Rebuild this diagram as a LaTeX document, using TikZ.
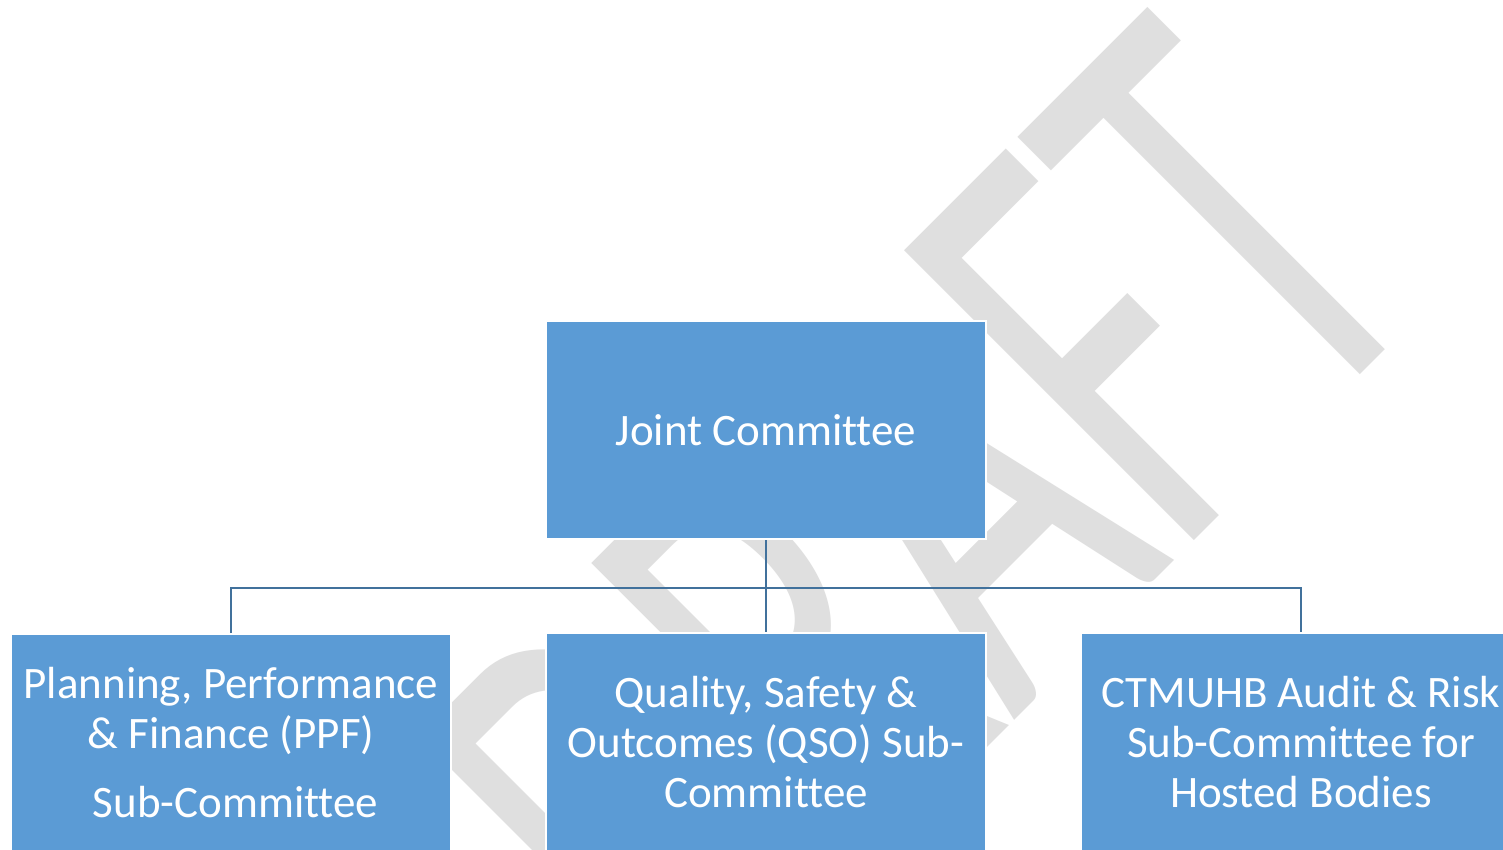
\documentclass[tikz,border=0pt]{standalone}
\usepackage{fontspec}
\setmainfont{Carlito}[Ligatures={NoCommon}]
\definecolor{boxblue}{HTML}{5B9BD5}
\definecolor{linkblue}{HTML}{41719C}
\definecolor{wmgray}{HTML}{DFDFDF}
\tikzset{
  orgbox/.style={draw=white, line width=2pt, fill=boxblue, text=white,
    minimum width=440pt, minimum height=218pt, inner sep=0pt, align=center,
    font=\fontsize{45}{50}\selectfont},
  conn/.style={draw=linkblue, line width=2.2pt},
  watermark/.style={text=wmgray, inner sep=0pt, anchor=base west, rotate=45}
}
\begin{document}
\begin{tikzpicture}[x=1pt,y=-1pt]
\useasboundingbox (0,0) rectangle (1503,850);
\clip (0,0) rectangle (1503,850);
\fill[white] (0,0) rectangle (1503,850);
% watermark
\node[watermark] (wm) at (689,1046) {\scalebox{0.62}[1]{\fontsize{639}{639}\selectfont DRAFT}};
% boxes
\node[orgbox] (J) at (766,430) {Joint Committee};
\node[orgbox] (P) at (231,743) {Planning, Performance\\ \& Finance (PPF)\\[19pt] \hspace*{9pt}Sub-Committee};
\node[orgbox] (Q) at (766,742) {Quality, Safety \&\\ Outcomes (QSO) Sub-\\ Committee};
\node[orgbox] (R) at (1301,742) {CTMUHB Audit \& Risk\\ Sub-Committee for\\ Hosted Bodies};
% connectors
\coordinate (bus) at (766,588);
\draw[conn] (J.south) -- (Q.north);
\draw[conn] (P.north) |- (bus) -| (R.north);
\end{tikzpicture}
\end{document}
